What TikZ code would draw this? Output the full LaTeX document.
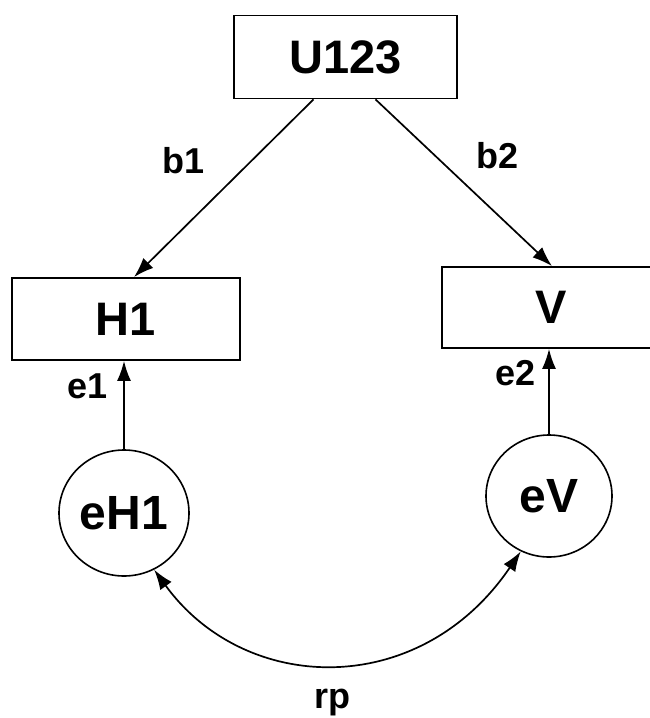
\documentclass[tikz,border=0pt]{standalone}
\usepackage{fontspec}
\setmainfont{Liberation Sans}
\usetikzlibrary{arrows.meta,shapes.geometric}
\begin{document}
\begin{tikzpicture}[x=1pt,y=-1pt,
  box/.style={draw, line width=1.8pt, inner sep=0pt, font=\fontsize{47}{50}\selectfont\bfseries},
  err/.style={draw, ellipse, line width=1.6pt, inner sep=0pt, font=\fontsize{48}{50}\selectfont\bfseries},
  tip/.tip={Latex[length=20pt,width=14pt]},
  arr/.style={line width=1.7pt, -tip},
  dbl/.style={line width=1.7pt, tip-tip},
  lab/.style={inner sep=0pt, anchor=base, font=\fontsize{36}{40}\selectfont\bfseries}]
\useasboundingbox (0,0) rectangle (649,718);
\node[box, minimum width=223pt, minimum height=83pt] (U) at (345.5,57) {U123};
\node[box, minimum width=228pt, minimum height=82pt] (H) at (126,319) {H1};
\node[box, minimum width=218pt, minimum height=81pt] (V) at (551,307.5) {V};
\node[err, minimum width=130pt, minimum height=126pt] (eH) at (124,513) {eH1};
\node[err, minimum width=126pt, minimum height=122pt] (eV) at (549,496) {eV};
\draw[arr] ([xshift=-32pt]U.south) -- ([xshift=8pt]H.north);
\draw[arr] ([xshift=30pt]U.south) -- ([xshift=1pt]V.north);
\draw[arr] (eH.north) -- (eH.north |- H.south);
\draw[arr] (eV.north) -- (eV.north |- V.south);
\draw[dbl] (eH.-62) .. controls (245,695) and (420,700) .. (eV.-117);
\node[lab] (b1) at (184,173) {b1};
\node[lab] (b2) at (498,168) {b2};
\node[lab] (e1) at (88,398) {e1};
\node[lab] (e2) at (516,385) {e2};
\node[lab] (rp) at (332,708) {rp};
\end{tikzpicture}
\end{document}
